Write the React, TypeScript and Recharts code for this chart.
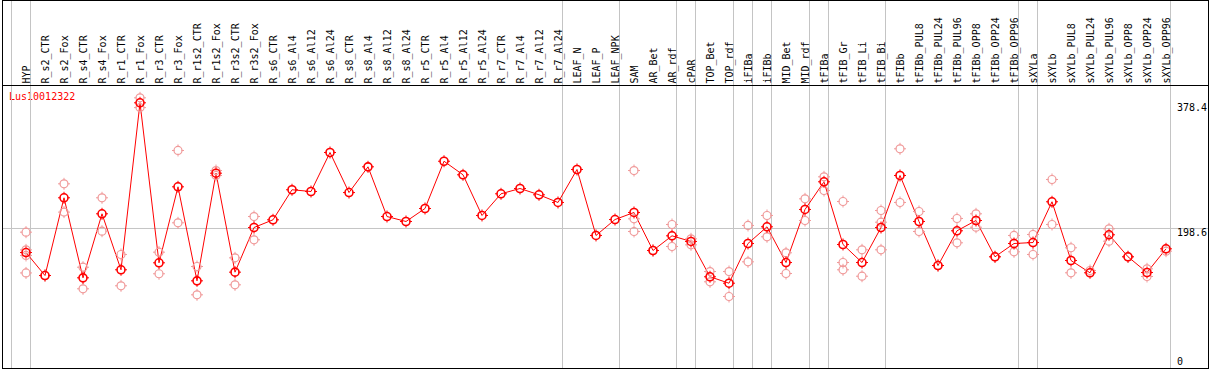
import React from 'react';
import { LineChart, Line, XAxis, YAxis, ReferenceLine } from 'recharts';

const categories = [
  'HYP', 'R_s2_CTR', 'R_s2_Fox', 'R_s4_CTR', 'R_s4_Fox', 'R_r1_CTR', 'R_r1_Fox', 'R_r3_CTR', 'R_r3_Fox',
  'R_r1s2_CTR', 'R_r1s2_Fox', 'R_r3s2_CTR', 'R_r3s2_Fox', 'R_s6_CTR', 'R_s6_Al4', 'R_s6_Al12', 'R_s6_Al24',
  'R_s8_CTR', 'R_s8_Al4', 'R_s8_Al12', 'R_s8_Al24', 'R_r5_CTR', 'R_r5_Al4', 'R_r5_Al12', 'R_r5_Al24',
  'R_r7_CTR', 'R_r7_Al4', 'R_r7_Al12', 'R_r7_Al24', 'LEAF_N', 'LEAF_P', 'LEAF_NPK', 'SAM', 'AR_Bet', 'AR_rdf',
  'cPAR', 'TOP_Bet', 'TOP_rdf', 'iFIBa', 'iFIBb', 'MID_Bet', 'MID_rdf', 'tFIBa', 'tFIB_Gr', 'tFIB_Li', 'tFIB_Bi',
  'tFIBb', 'tFIBb_PUL8', 'tFIBb_PUL24', 'tFIBb_PUL96', 'tFIBb_OPP8', 'tFIBb_OPP24', 'tFIBb_OPP96', 'sXYLa',
  'sXYLb', 'sXYLb_PUL8', 'sXYLb_PUL24', 'sXYLb_PUL96', 'sXYLb_OPP8', 'sXYLb_OPP24', 'sXYLb_OPP96',
];

const meanValues = [
  164.2, 131.3, 242.5, 128, 219.6, 139.5, 378.4, 149.5, 258.2,
  123.7, 277.7, 136.1, 200, 211, 254, 251.5, 307.3,
  250, 286.8, 215.7, 208.6, 227.2, 294.8, 275.4, 217.2,
  248.2, 255.8, 246.8, 235.8, 283, 188.6, 211.4, 221.5, 167.1, 188.1,
  180, 129.5, 120.3, 177.1, 201, 149.9, 225.8, 265.4, 175.7, 149.9, 200,
  274.4, 208.6, 145.6, 195.3, 210, 158.1, 177.1, 178.5,
  236.8, 152.8, 135.2, 189.6, 158.1, 135.6, 169.5,
];

const N = null;
const rep1 = [
  193.3, 131.3, 262.5, 143.2, 242.5, 161.4, 385.5, 164.7, 310.2,
  144.2, 281.5, 156.6, 215.7, N, N, N, N,
  N, N, N, N, N, N, N, N,
  N, N, N, N, N, N, N, 281.5, 167.1, 204.3,
  183.8, 137, 137, 202.9, 217.2, 163.8, 241, 272.5, 237.2, 168.1, 224.3,
  312.6, 222.9, 145.6, 212.9, 219.6, 158.1, 188.6, 190,
  268.7, 171, 138.5, 198.1, 158.1, 140.9, 166.1,
];
const rep2 = [
  168, N, 222, 112.3, 194.7, 116.6, 371.5, 133.8, 206.7,
  103.7, 274.4, 118, 182.4, N, N, N, N,
  N, N, N, N, N, N, N, N,
  N, N, N, N, N, N, N, 212.4, N, 172.8,
  175.2, 122.3, 101.3, 150.9, 186.7, 134.2, 210, 252.9, 149.9, 130.3, 207.6,
  235.8, 194.3, N, 178.1, 200.4, N, 165.2, 161.4,
  204.3, 135.2, N, 180.4, N, 129.9, N,
];
const rep3 = [
  160, N, N, N, N, N, N, N, N,
  N, N, N, N, N, N, N, N,
  N, N, N, N, N, N, N, N,
  N, N, N, N, N, N, N, 194.3, N, N,
  N, N, N, N, N, N, N, N, 139.5, N, 168.1,
  N, N, N, N, N, N, N, N,
  N, N, N, N, N, N, N,
];
const rep4 = [
  135, N, N, N, N, N, N, N, N,
  N, N, N, N, N, N, N, N,
  N, N, N, N, N, N, N, N,
  N, N, N, N, N, N, N, N, N, N,
  N, N, N, N, N, N, N, N, N, N, N,
  N, N, N, N, N, N, N, N,
  N, N, N, N, N, N, N,
];

// group boundaries: a separator is drawn after each of these category indices
const separatorAfter = [-1, 0, 28, 31, 34, 35, 37, 38, 39, 41, 42, 45, 52, 53, 60];
const yTicks = [0, 198.6, 378.4];
const refValue = 198.6;
const geneName = 'Lus10012322';

const data = categories.map((c, i) => ({
  i,
  name: c,
  mean: meanValues[i],
  r1: rep1[i],
  r2: rep2[i],
  r3: rep3[i],
  r4: rep4[i],
}));

// layout
const W = 1209;
const H = 368;
const PL = 3;
const PR = 1208;
const X0 = 26;
const DX = 19;
const Y0 = 367.3;
const KY = 0.699;
const xDomain = [(PL - X0) / DX, (PR - X0) / DX];
const yDomain = [(Y0 - H) / KY, Y0 / KY];
const sepOffset = 4.5 / DX;

const FONT = '"DejaVu Sans Mono", monospace';
const RED = '#ff0000';
const PINK = '#f09a9a';
const GRID = '#c4c4c4';

const ring = (cx: number, cy: number, color: string, sw: number, key: string) => (
  <g key={key}>
    <circle cx={cx} cy={cy} r={4} fill="none" stroke={color} strokeWidth={sw} />
    <path
      d={`M${cx},${cy - 6}V${cy - 3.5}M${cx},${cy + 3.5}V${cy + 6}M${cx - 6},${cy}H${cx - 3.5}M${cx + 3.5},${cy}H${cx + 6}`}
      stroke={color}
      strokeWidth={1}
      fill="none"
    />
  </g>
);

const makeDot = (color: string, sw: number) => (props: any) => {
  const { cx, cy, value, index } = props;
  const k = `d-${color}-${index}`;
  if (value == null || cy == null || cx == null || Number.isNaN(cy)) return <g key={k} />;
  return ring(cx, cy, color, sw, k);
};

const pinkDot = makeDot(PINK, 1.2);
const meanDot = makeDot(RED, 1.6);

const CategoryTick = (props: any) => {
  const { x, payload } = props;
  const label = categories[payload.value];
  if (label == null) return <g />;
  return (
    <text
      transform={`translate(${x},83.5) rotate(-90)`}
      textAnchor="start"
      dominantBaseline="central"
      fontFamily={FONT}
      fontSize={10}
      fill="#000"
    >
      {label}
    </text>
  );
};

const ValueTick = (props: any) => {
  const { y, payload } = props;
  const ty = Math.min(y + 4.4, 361.5);
  return (
    <text x={1177} y={ty} dominantBaseline="central" fontFamily={FONT} fontSize={10} fill="#000">
      {String(payload.value)}
    </text>
  );
};

export default function App() {
  return (
    <div style={{ position: 'absolute', left: 0, top: 0, width: W, height: 370, background: '#fff' }}>
      <LineChart width={W} height={H} data={data} margin={{ top: 0, right: W - PR, bottom: 0, left: PL }}>
        <XAxis
          dataKey="i"
          type="number"
          domain={xDomain}
          allowDataOverflow
          orientation="top"
          mirror
          ticks={categories.map((_, i) => i)}
          interval={0}
          tick={<CategoryTick />}
          axisLine={false}
          tickLine={false}
        />
        <YAxis
          type="number"
          domain={yDomain}
          allowDataOverflow
          orientation="right"
          mirror
          ticks={yTicks}
          interval={0}
          tick={<ValueTick />}
          axisLine={false}
          tickLine={false}
        />
        <ReferenceLine y={refValue} stroke={GRID} strokeWidth={1} ifOverflow="visible" />
        {separatorAfter.map((k) => (
          <ReferenceLine key={`sep-${k}`} x={k + sepOffset} stroke={GRID} strokeWidth={1} ifOverflow="visible" />
        ))}
        <Line dataKey="r1" stroke="none" dot={pinkDot} isAnimationActive={false} activeDot={false} />
        <Line dataKey="r2" stroke="none" dot={pinkDot} isAnimationActive={false} activeDot={false} />
        <Line dataKey="r3" stroke="none" dot={pinkDot} isAnimationActive={false} activeDot={false} />
        <Line dataKey="r4" stroke="none" dot={pinkDot} isAnimationActive={false} activeDot={false} />
        <Line dataKey="mean" stroke={RED} strokeWidth={1} dot={meanDot} isAnimationActive={false} activeDot={false} />
        <text x={9} y={96.7} dominantBaseline="central" fontFamily={FONT} fontSize={10} fill={RED}>
          {geneName}
        </text>
      </LineChart>
      <div
        style={{
          position: 'absolute',
          left: 2,
          top: 0,
          width: 1207,
          height: 369,
          border: '1px solid #000',
          boxSizing: 'border-box',
          pointerEvents: 'none',
        }}
      />
      <div style={{ position: 'absolute', left: 2, top: 85, width: 1207, height: 1, background: '#000' }} />
    </div>
  );
}
